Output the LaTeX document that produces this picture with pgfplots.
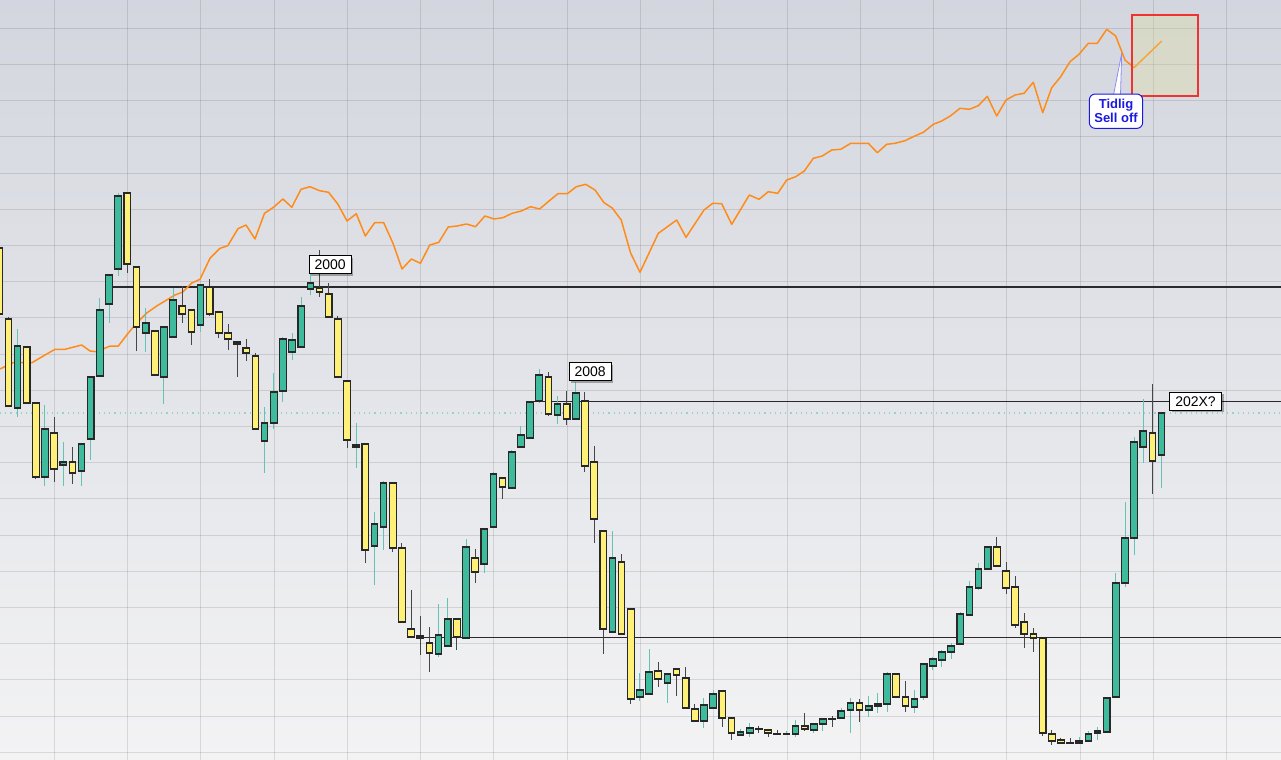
\documentclass[border=0pt]{standalone}
\usepackage{fontspec}
\setmainfont{Liberation Sans}
\usepackage{pgfplots}
\pgfplotsset{compat=1.18}
\usepackage{pgfplotstable}
\usetikzlibrary{shadows}

\definecolor{cgreen}{RGB}{61,187,156}
\definecolor{cyellow}{RGB}{255,240,120}
\definecolor{cborder}{RGB}{40,40,40}
\definecolor{wickg}{RGB}{100,195,180}
\definecolor{wicky}{RGB}{70,70,70}
\definecolor{corange}{RGB}{255,140,26}
\definecolor{bgtop}{RGB}{211,214,222}
\definecolor{bgbot}{RGB}{243,243,244}
\definecolor{lvl}{RGB}{40,40,45}
\definecolor{cblue}{RGB}{25,25,225}
\definecolor{cred}{RGB}{240,50,50}
\definecolor{boxfill}{RGB}{225,222,150}
\definecolor{dotteal}{RGB}{150,210,200}

% candle index k (x = -0.8 + 9.153 k), open, high, low, close (chart pixel rows, top = 0)
\pgfplotstableread{
k o h l c
0 248 246 316 314
1 319 317 407 406
2 408 329 417 346
3 347 346 404 403
4 403 403 479 477
5 477 405 486 429
6 433 417 482 469
7 465 442 486 462
8 462 447 484 473
9 471 444 486 444
10 439 376 460 377
11 376 298 377 310
12 304 274 323 275
13 269 193 276 196
14 193 192 273 264
15 267 266 351 327
16 333 308 352 323
17 331 330 376 375
18 377 326 404 327
19 337 288 337 300
20 306 286 323 314
21 310 309 345 332
22 325 284 332 285
23 287 279 316 314
24 312 311 338 333
25 333 324 350 339
26 342 342 377 344
27 348 339 361 353
28 356 353 430 429
29 441 407 473 423
30 423 373 429 392
31 391 337 402 339
32 352 333 360 340
33 347 297 348 306
34 289 273 295 283
35 288 250 297 292
36 294 283 318 317
37 319 316 378 377
38 381 381 448 440
39 447 423 468 445
40 444 444 563 550
41 546 512 585 524
42 527 481 550 483
43 483 482 552 548
44 548 543 622 622
45 629 590 637 637
46 636 616 655 638
47 643 627 672 653
48 654 604 657 635
49 646 598 646 619
50 619 619 650 637
51 638 539 638 547
52 558 549 583 572
53 564 529 573 529
54 527 472 527 474
55 478 478 499 487
56 488 450 488 452
57 447 426 447 435
58 438 402 438 402
59 401 369 403 375
60 377 372 416 414
61 415 396 424 404
62 404 391 425 419
63 419 382 419 393
64 401 392 472 466
65 462 446 543 519
66 531 531 654 629
67 632 531 632 558
68 562 554 634 634
69 609 609 704 699
70 697 673 701 690
71 694 649 694 672
72 671 662 687 679
73 683 673 703 674
74 669 669 696 675
75 678 667 708 708
76 709 704 721 721
77 721 698 728 705
78 708 690 708 694
79 691 691 727 718
80 718 718 740 733
81 735 729 735 732
82 733 723 737 728
83 728.5 725.7 732.7 729
84 730 730 737 733
85 734 730 735 734.5
86 734.5 731 735 734
87 734 720 737 726
88 726 713 731 729
89 730 724 733 724
90 724 719 731 719
91 718.5 716 727 719
92 718 708 718 711
93 710 698 733 703
94 703 699 722 710
95 710 696 717 706
96 706 693 713 704
97 704 672 712 674
98 674 673 697 697
99 697 681 712 706
100 707 690 713 699
101 697 664 700 664
102 666 657 670 659
103 660 650 667 652
104 652 643 659 646
105 644 612 645 614
106 615 581 616 587
107 588 563 590 569
108 569 547 569 547
109 547 537 567 566
110 571 562 594 588
111 587 576 628 625
112 622 613 648 634
113 634 628 652 638
114 638 638 736 733
115 734 730 745 741
116 740 738 743 743
117 742.5 738 743 743
118 743 737 743 741
119 741 731 741 734
120 733 727 740 731
121 732 697 732 698
122 697 573 697 583
123 583 502 587 538
124 538 437 555 442
125 447 399 463 431
126 433 384 494 461
127 455 412 488 413
}\candles

\pgfplotstableread{
x y
0 369
13 362.7
32 362.7
45 355
55 349.3
65 349.3
81.7 345
90 351
96.7 351.7
110 346
118.3 346
128.3 333
136.7 323
146.7 313
156.7 306
166.7 300
175 295
182.7 292
191.8 283
200 279.3
210 258.3
220 248.3
227.8 245.7
238 228.7
246 225
255 239
264.5 213.3
273.5 207.3
282.9 199
291.8 207.3
301 189.3
310 186.7
319.6 190.7
328.6 192.3
338 204.3
347 221
356.3 213.7
365.3 236
374.7 222.7
383.7 222.7
393 243.3
402 269
411.4 259
420.4 263.3
429.8 245
438.8 242.3
448.2 227
457.1 226
466.5 224
475.5 226.7
484.9 216
493.9 219
502.9 217.7
512.2 213.3
521.2 211
530.6 206.7
539.6 209
549 201
558 193.7
567.3 193.7
576.3 186.7
585.7 184.3
595 190
604 202.7
612.2 208
621.2 220
630.6 253
640 272.3
658.3 233.3
676.7 220
686 237.3
704 210
712.7 203.3
721.7 203.7
731.7 224.3
749.3 195
759 199.3
768.3 191.7
777.7 193.3
786.7 180
795.7 176.7
804.3 171
813.3 158.3
822.3 156
831.7 150
840.7 149.3
850.7 143.3
868.3 143.3
877.3 152.7
886.7 144.3
895 143.3
905 140.7
913.3 136.7
923.3 132.3
933.3 124.3
941.7 121
950.7 115.7
960 108.3
969.3 109.3
978.3 105.7
987.3 96.3
996.7 116
1006 100
1015 95
1024 93.3
1033.3 82.3
1042.7 112.7
1051.7 87.7
1060.7 76.7
1070 61.7
1079 54.3
1088.3 43.3
1097.3 43.3
1106.7 29.3
1115.7 36
1125 60
1134 67.7
1161.7 41
}\orangeline

\begin{document}
\begin{tikzpicture}
\begin{axis}[
  scale only axis, width=640.5pt, height=380pt,
  xmin=0, xmax=1281, ymin=0, ymax=760, y dir=reverse,
  axis line style={draw=none},
  major tick length=0pt,
  xtick={54.3,127.57,...,1240}, ytick={28.3,64.5,...,760},
  xticklabels={}, yticklabels={},
  grid=major,
  grid style={draw=black, draw opacity=0.11, line width=0.5pt},
  axis background/.style={top color=bgtop, bottom color=bgbot},
]
% level lines
\addplot[dotteal, dotted, line width=0.6pt] coordinates {(0,413) (1281,413)};
\addplot[lvl, line width=0.8pt] coordinates {(112.7,287) (1281,287)};
\addplot[lvl, line width=0.8pt] coordinates {(527,401.5) (1281,401.5)};
\addplot[lvl, line width=0.8pt] coordinates {(416,637.5) (1281,637.5)};
% orange line
\addplot[corange, line width=0.75pt, line join=round] table[x=x, y=y] {\orangeline};
% candles
\pgfplotstablegetrowsof{\candles}
\pgfmathtruncatemacro{\lastrow}{\pgfplotsretval-1}
\pgfplotsforeachungrouped \i in {0,...,\lastrow}{%
  \pgfplotstablegetelem{\i}{k}\of\candles
  \pgfmathsetmacro{\candX}{-0.8+9.153*\pgfplotsretval}%
  \pgfplotstablegetelem{\i}{o}\of\candles \let\candO\pgfplotsretval
  \pgfplotstablegetelem{\i}{h}\of\candles \let\candH\pgfplotsretval
  \pgfplotstablegetelem{\i}{l}\of\candles \let\candL\pgfplotsretval
  \pgfplotstablegetelem{\i}{c}\of\candles \let\candC\pgfplotsretval
  \pgfmathsetmacro{\candXa}{\candX-3.3}%
  \pgfmathsetmacro{\candXb}{\candX+3.3}%
  \pgfmathtruncatemacro{\candUp}{\candC<\candO ? 1 : 0}%
  \ifnum\candUp=1 \def\fcol{cgreen}\def\wcol{wickg}\else\def\fcol{cyellow}\def\wcol{wicky}\fi
  \edef\temp{\noexpand\addplot[\wcol, line width=0.5pt] coordinates {(\candX,\candH) (\candX,\candL)};
    \noexpand\addplot[fill=\fcol, draw=cborder, line width=0.55pt] coordinates {(\candXa,\candO) (\candXb,\candO) (\candXb,\candC) (\candXa,\candC)} -- cycle;}%
  \temp
}
% labels
\tikzset{lbl/.style={draw=black, fill=white, line width=0.5pt, minimum height=9pt, inner sep=0pt,
  font=\fontsize{7}{8}\selectfont,
  drop shadow={shadow xshift=1pt, shadow yshift=-1pt, fill=black, opacity=0.3}}}
\node[lbl, minimum width=21pt] at (axis cs:330.2,264.5) {2000};
\node[lbl, minimum width=21pt] at (axis cs:590.2,371.5) {2008};
\node[lbl, minimum width=26pt] at (axis cs:1195.5,401.3) {202X?};
% red box
\draw[draw=cred, line width=1pt, fill=boxfill, fill opacity=0.3] (axis cs:1131.7,15) rectangle (axis cs:1198,96);
% callout
\draw[draw=cblue!50, fill=white, line width=0.4pt] (axis cs:1113.5,95) -- (axis cs:1121.7,53.3) -- (axis cs:1120.5,95);
\node[draw=cblue, fill=white, line width=0.5pt, rounded corners=3pt, minimum width=26.7pt, minimum height=17.2pt,
  inner sep=0pt, align=center, text=cblue, font=\bfseries\fontsize{6.5}{7}\selectfont]
  at (axis cs:1116,111.2) {Tidlig\\Sell off};
\end{axis}
\pgfresetboundingbox
\path[use as bounding box] (current axis.south west) rectangle (current axis.north east);
\end{tikzpicture}
\end{document}
